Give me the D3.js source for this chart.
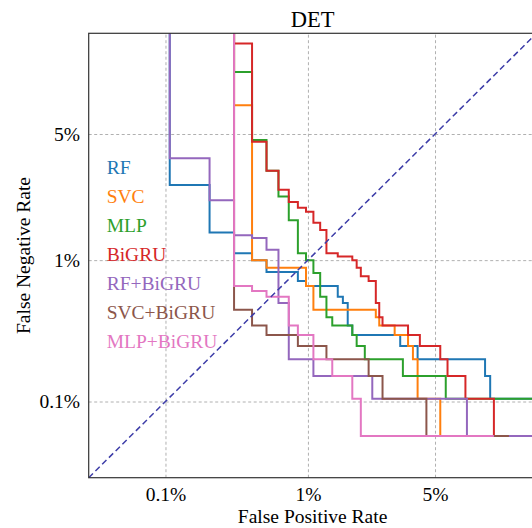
<!DOCTYPE html>
<html>
<head>
<meta charset="utf-8">
<script src="https://cdn.jsdelivr.net/npm/d3@7"></script>
<style>
  body { margin: 0; background: #fff; }
  svg { display: block; }
</style>
</head>
<body>
<svg id="chart"></svg>
<script>
// values, all in percent
const names = ['RF', 'SVC', 'MLP', 'BiGRU', 'RF+BiGRU', 'SVC+BiGRU', 'MLP+BiGRU']
const colors = ['#1f77b4', '#ff7f0e', '#2ca02c', '#d62728', '#9467bd', '#8c564b', '#e377c2']

const fprRF = [0.108, 0.108, 0.216, 0.324, 0.432, 0.541, 0.865, 0.973, 1.514, 1.622, 1.730, 1.838, 3.351, 4.108, 8.432, 8.865, 20]
const fnrRF = [50, 2.737, 1.474, 1.105, 1.0, 0.842, 0.737, 0.684, 0.579, 0.526, 0.368, 0.316, 0.263, 0.211, 0.158, 0.105, 0.105]

const fprSVC = [0.324, 0.324, 0.432, 0.541, 0.973, 1.081, 2.486, 2.595, 3.135, 3.676, 3.892, 4.108, 5.297, 9.19]
const fnrSVC = [50, 6.82, 1.0, 0.895, 0.684, 0.474, 0.421, 0.368, 0.316, 0.263, 0.211, 0.105, 0.0526, 0.0526]

const fprMLP = [0.324, 0.324, 0.432, 0.541, 0.649, 0.757, 0.865, 0.973, 1.081, 1.189, 1.297, 1.405, 1.838, 1.946, 2.162, 3.459, 5.622, 20]
const fnrMLP = [50, 9.52, 4.68, 3.263, 2.368, 1.737, 1.105, 1.0, 0.83, 0.579, 0.421, 0.368, 0.316, 0.263, 0.211, 0.158, 0.105, 0.105]

const fprBiGRU = [0.324, 0.324, 0.432, 0.541, 0.649, 0.757, 0.865, 0.973, 1.081, 1.189, 1.297, 1.514, 1.838, 1.946, 2.054, 2.270, 2.486, 2.595, 2.703, 3.676, 4.216, 5.297, 5.730, 6.919, 9.189, 9.405]
const fnrBiGRU = [50, 12.4, 4.58, 3.263, 2.579, 2.211, 2.053, 1.947, 1.684, 1.526, 1.105, 1.053, 1.0, 0.895, 0.789, 0.737, 0.526, 0.421, 0.368, 0.316, 0.263, 0.211, 0.158, 0.105, 0.0526, 0.0526]

const fprRFBiGRU = [0.108, 0.108, 0.216, 0.324, 0.432, 0.541, 0.649, 0.757, 1.081, 2.378, 7.027, 20]
const fnrRFBiGRU = [50, 3.789, 2.263, 1.421, 1.368, 1.158, 0.526, 0.211, 0.158, 0.105, 0.0526, 0.0526]

const fprSVCBiGRU = [0.324, 0.324, 0.432, 0.541, 0.865, 1.297, 2.270, 2.703, 4.541, 10.59]
const fnrSVCBiGRU = [50, 0.474, 0.368, 0.316, 0.263, 0.211, 0.158, 0.105, 0.0526, 0.0526]

const fprMLPBiGRU = [0.324, 0.324, 0.432, 0.541, 0.757, 0.865, 1.081, 1.405, 1.838, 2.054, 9.189]
const fnrMLPBiGRU = [50, 0.684, 0.632, 0.579, 0.368, 0.316, 0.211, 0.158, 0.105, 0.0526, 0.0526]

const axisLimits = [0.0231, 13.55]
const tickValues = [0.1, 1, 5]
const tickLabels = ['0.1%', '1%', '5%']

const fprAll = [fprRF, fprSVC, fprMLP, fprBiGRU, fprRFBiGRU, fprSVCBiGRU, fprMLPBiGRU]
const fnrAll = [fnrRF, fnrSVC, fnrMLP, fnrBiGRU, fnrRFBiGRU, fnrSVCBiGRU, fnrMLPBiGRU]

// inverse normal cdf (Acklam), DET axes are in normal deviates
function probit(p) {
    const a = [-39.69683028665376, 220.9460984245205, -275.9285104469687, 138.3577518672690, -30.66479806614716, 2.506628277459239]
    const b = [-54.47609879822406, 161.5858368580409, -155.6989798598866, 66.80131188771972, -13.28068155288572]
    const c = [-0.007784894002430293, -0.3223964580411365, -2.400758277161838, -2.549732539343734, 4.374664141464968, 2.938163982698783]
    const d = [0.007784695709041462, 0.3224671290700398, 2.445134137142996, 3.754408661907416]
    const plow = 0.02425
    if (p < plow) {
        const q = Math.sqrt(-2 * Math.log(p))
        return (((((c[0] * q + c[1]) * q + c[2]) * q + c[3]) * q + c[4]) * q + c[5]) / ((((d[0] * q + d[1]) * q + d[2]) * q + d[3]) * q + 1)
    }
    if (p > 1 - plow) {
        const q = Math.sqrt(-2 * Math.log(1 - p))
        return -(((((c[0] * q + c[1]) * q + c[2]) * q + c[3]) * q + c[4]) * q + c[5]) / ((((d[0] * q + d[1]) * q + d[2]) * q + d[3]) * q + 1)
    }
    const q = p - 0.5, r = q * q
    return (((((a[0] * r + a[1]) * r + a[2]) * r + a[3]) * r + a[4]) * r + a[5]) * q / (((((b[0] * r + b[1]) * r + b[2]) * r + b[3]) * r + b[4]) * r + 1)
}
const dev = v => probit(v / 100)

const width = 532, height = 528
const plotLeft = 88.7, plotRight = 536.5, plotTop = 33.3, plotBottom = 477.7
const font = '"Liberation Serif", "Times New Roman", serif'

const svg = d3.select('#chart').attr('width', width).attr('height', height)
svg.append('rect').attr('width', width).attr('height', height).attr('fill', '#fff')

const xScale = d3.scaleLinear().domain(axisLimits.map(dev)).range([plotLeft, plotRight])
const yScale = d3.scaleLinear().domain(axisLimits.map(dev)).range([plotBottom, plotTop])

svg.append('defs').append('clipPath').attr('id', 'plotClip')
    .append('rect')
    .attr('x', plotLeft).attr('y', plotTop)
    .attr('width', plotRight - plotLeft).attr('height', plotBottom - plotTop)

// grid
const xGrid = svg.append('g')
    .attr('transform', `translate(0,${plotBottom})`)
    .call(d3.axisBottom(xScale).tickValues(tickValues.map(dev)).tickSize(-(plotBottom - plotTop)).tickFormat(''))
const yGrid = svg.append('g')
    .attr('transform', `translate(${plotLeft},0)`)
    .call(d3.axisLeft(yScale).tickValues(tickValues.map(dev)).tickSize(-(plotRight - plotLeft)).tickFormat(''))
;[xGrid, yGrid].forEach(g => {
    g.select('.domain').remove()
    g.selectAll('line').attr('stroke', '#b0b0b0').attr('stroke-width', 1).attr('stroke-dasharray', '3,2.5')
})

// tick labels
const xAxis = svg.append('g')
    .attr('transform', `translate(0,${plotBottom})`)
    .call(d3.axisBottom(xScale).tickValues(tickValues.map(dev)).tickSize(0).tickPadding(9)
        .tickFormat((d, i) => tickLabels[i]))
const yAxis = svg.append('g')
    .attr('transform', `translate(${plotLeft},0)`)
    .call(d3.axisLeft(yScale).tickValues(tickValues.map(dev)).tickSize(0).tickPadding(8.7)
        .tickFormat((d, i) => tickLabels[i]))
;[xAxis, yAxis].forEach(g => {
    g.select('.domain').remove()
    g.attr('font-family', font).attr('font-size', 19.5)
    g.selectAll('text').attr('fill', '#000')
})

// curves
const line = d3.line()
    .x(d => xScale(dev(d[0])))
    .y(d => yScale(dev(d[1])))
    .curve(d3.curveStepAfter)

const curves = svg.append('g').attr('clip-path', 'url(#plotClip)')
names.forEach((name, i) => {
    const pts = fprAll[i].map((v, j) => [v, fnrAll[i][j]])
    curves.append('path')
        .datum(pts)
        .attr('class', 'line')
        .attr('d', line)
        .attr('fill', 'none')
        .attr('stroke', colors[i])
        .attr('stroke-width', 2)
})

// chance diagonal
curves.append('path')
    .datum([[axisLimits[0], axisLimits[0]], [axisLimits[1], axisLimits[1]]])
    .attr('d', line.curve(d3.curveLinear))
    .attr('fill', 'none')
    .attr('stroke', '#3d3da8')
    .attr('stroke-width', 1.5)
    .attr('stroke-dasharray', '6,3.5')

// frame
svg.append('rect')
    .attr('x', plotLeft).attr('y', plotTop)
    .attr('width', plotRight - plotLeft).attr('height', plotBottom - plotTop)
    .attr('fill', 'none')
    .attr('stroke', '#333')
    .attr('stroke-width', 1.2)

// legend text only
svg.append('g').selectAll('text')
    .data(names)
    .join('text')
    .attr('x', 106.7)
    .attr('y', (d, i) => 174 + i * 29)
    .attr('fill', (d, i) => colors[i])
    .style('font-family', font)
    .style('font-size', '19.5px')
    .text(d => d)

svg.append('text')
    .attr('x', (plotLeft + plotRight) / 2).attr('y', 27)
    .attr('text-anchor', 'middle')
    .style('font-family', font).style('font-size', '22.5px')
    .text('DET')

svg.append('text')
    .attr('x', (plotLeft + plotRight) / 2).attr('y', 523)
    .attr('text-anchor', 'middle')
    .style('font-family', font).style('font-size', '19.5px')
    .text('False Positive Rate')

svg.append('text')
    .attr('transform', `translate(30,${(plotTop + plotBottom) / 2}) rotate(-90)`)
    .attr('text-anchor', 'middle')
    .style('font-family', font).style('font-size', '19.5px')
    .text('False Negative Rate')
</script>
</body>
</html>
